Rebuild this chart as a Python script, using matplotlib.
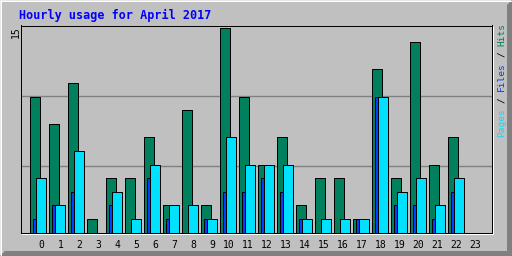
import matplotlib
matplotlib.use('Agg')
import matplotlib.pyplot as plt
from matplotlib.patches import Polygon
from matplotlib.lines import Line2D
from matplotlib.transforms import blended_transform_factory
import numpy as np

# ---- data ----
hours = list(range(24))
hits = [10, 8, 11, 1, 4, 4, 7, 2, 9, 2, 15, 10, 5, 7, 2, 4, 4, 1, 12, 4, 14, 5, 7, 0]
files = [1, 2, 3, 0, 2, 0, 4, 1, 0, 1, 3, 3, 4, 3, 1, 0, 0, 1, 10, 2, 2, 1, 3, 0]
pages = [4, 2, 6, 0, 3, 1, 5, 2, 2, 1, 7, 5, 5, 5, 1, 1, 1, 1, 10, 3, 4, 2, 4, 0]
hour_labels = [str(h) for h in hours]
title = "Hourly usage for April 2017"
ymax_label = "15"

HIT_C = '#00805C'
FILE_C = '#0040FF'
PAGE_C = '#00E0FF'
BG = '#C0C0C0'
DK = '#808080'
MONO = 'DejaVu Sans Mono'

W, H = 512, 256
fig = plt.figure(figsize=(W / 100, H / 100), dpi=100)
fig.patch.set_facecolor(BG)

def fx(x):
    return x / W

def fy(y):
    return 1 - y / H

def fline(x0, y0, x1, y1, color, lw=0.72):
    fig.add_artist(Line2D([fx(x0), fx(x1)], [fy(y0), fy(y1)], color=color,
                          lw=lw, transform=fig.transFigure, solid_capstyle='butt'))

# outer bevel
fig.add_artist(Polygon([(fx(0), fy(0)), (fx(512), fy(0)), (fx(507), fy(5)),
                        (fx(5), fy(5)), (fx(5), fy(251)), (fx(0), fy(256))],
                       closed=True, facecolor='#E8E8E8', edgecolor='none',
                       transform=fig.transFigure, zorder=-5))
fig.add_artist(Polygon([(fx(1), fy(1)), (fx(511), fy(1)), (fx(511), fy(255)), (fx(1), fy(255))],
                       closed=True, facecolor=BG, edgecolor='none',
                       transform=fig.transFigure, zorder=-4))
fig.add_artist(Polygon([(fx(512), fy(0)), (fx(512), fy(256)), (fx(0), fy(256)),
                        (fx(5), fy(251)), (fx(507), fy(251)), (fx(507), fy(5))],
                       closed=True, facecolor=DK, edgecolor='none',
                       transform=fig.transFigure, zorder=-3))
fline(0, 0.5, 512, 0.5, 'white', lw=0.72)
fline(0.5, 0, 0.5, 256, 'white', lw=0.72)

# plot area
PX_PER_HOUR = 19.0
PX_PER_UNIT = 13.6
left_px, right_px, top_px, bot_px = 20.5, 491.5, 25.5, 232.5
ax = fig.add_axes([fx(left_px), fy(bot_px), (right_px - left_px) / W, (bot_px - top_px) / H])
ax.set_facecolor(BG)
ax.set_xlim((left_px - 29.5) / PX_PER_HOUR, (right_px - 29.5) / PX_PER_HOUR)
ax.set_ylim(0, (bot_px - top_px) / PX_PER_UNIT)
ax.set_xticks([])
ax.set_yticks([])
for s in ax.spines.values():
    s.set_color('black')
    s.set_linewidth(0.72)

# white shadow of the plot frame
fline(21, 233.5, 493, 233.5, 'white')
fline(492.5, 26, 492.5, 234, 'white')

# grid lines
for frac in (0.3213, 0.6594):
    ax.plot([0, 1], [frac, frac], transform=ax.transAxes, color=DK, lw=1.0, zorder=1)

bw = 10 / PX_PER_HOUR
h_arr = np.array(hours)
def draw(vals, off, color, z):
    v = np.array(vals)
    m = v > 0
    ax.bar(h_arr[m] + off, v[m], width=bw, align='edge', color=color,
           edgecolor='black', linewidth=0.72, zorder=z)

draw(hits, 0.0, HIT_C, 2)
draw(files, 3 / PX_PER_HOUR, FILE_C, 3)
draw(pages, 6 / PX_PER_HOUR, PAGE_C, 4)

# hour labels
tr = blended_transform_factory(ax.transData, fig.transFigure)
for h, lab in zip(hours, hour_labels):
    off = (12 if len(lab) == 1 else 9) / PX_PER_HOUR
    ax.text(h + off, fy(248), lab, transform=tr, ha='center', va='baseline',
            fontsize=7, family=MONO, color='black', clip_on=False)

# title
fig.text(fx(19.3), fy(19), title, ha='left', va='baseline', fontsize=8.5,
         family=MONO, fontweight='bold', color='#0000FF')

# max label
fig.text(fx(19.3), fy(26.7), ymax_label, rotation=90, rotation_mode='anchor',
         ha='right', va='baseline', fontsize=7, family=MONO, color='black')

# legend (vertical, bottom to top), monospace pieces placed by char offset
LEG_FS = 6.8
char_px = 0.602 * LEG_FS * 100 / 72
legend_parts = [("Pages", PAGE_C, 0), ("/", 'black', 6), ("Files", FILE_C, 8),
                ("/", 'black', 14), ("Hits", HIT_C, 16)]
for txt, col, n in legend_parts:
    fig.text(fx(504.3), fy(136.7 - n * char_px), txt, rotation=90, rotation_mode='anchor',
             ha='left', va='baseline', fontsize=LEG_FS, family=MONO, color=col)

fig.savefig('out.png', dpi=100, facecolor=BG)
